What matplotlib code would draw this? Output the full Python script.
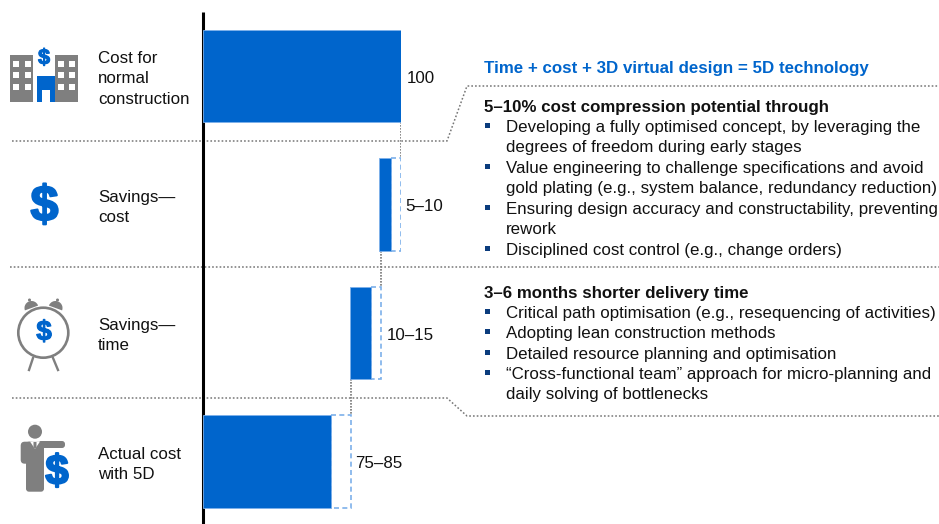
import matplotlib
matplotlib.use('Agg')
import matplotlib.pyplot as plt
import matplotlib.patheffects as pe
from matplotlib.patches import Rectangle, Circle, Wedge, FancyBboxPatch, Polygon

plt.rcParams['font.family'] = ['Liberation Sans', 'DejaVu Sans']

BLUE = '#0065CC'
LIGHT = '#7DB0EA'
GREY = '#7F7F7F'
DOT = '#777777'
INK = '#111111'

categories = ['Cost for\nnormal\nconstruction', 'Savings—\ncost', 'Savings—\ntime', 'Actual cost\nwith 5D']
bar_start = [0, 89.3, 74.4, 0]
bar_end = [100, 95, 85, 65]
range_end = [100, 100, 90, 75]
value_labels = ['100', '5–10', '10–15', '75–85']

headline = 'Time + cost + 3D virtual design = 5D technology'
cost_title = '5–10% cost compression potential through'
cost_bullets = [
    'Developing a fully optimised concept, by leveraging the\ndegrees of freedom during early stages',
    'Value engineering to challenge specifications and avoid\ngold plating (e.g., system balance, redundancy reduction)',
    'Ensuring design accuracy and constructability, preventing\nrework',
    'Disciplined cost control (e.g., change orders)',
]
time_title = '3–6 months shorter delivery time'
time_bullets = [
    'Critical path optimisation (e.g., resequencing of activities)',
    'Adopting lean construction methods',
    'Detailed resource planning and optimisation',
    '“Cross-functional team” approach for micro-planning and\ndaily solving of bottlenecks',
]

fig = plt.figure(figsize=(9.39, 5.24), dpi=100)

# overlay in pixel coordinates for text blocks, rules and icons
bg = fig.add_axes([0, 0, 1, 1])
bg.set_xlim(0, 939)
bg.set_ylim(524, 0)
bg.axis('off')

# bar axes: 0 at x=203, 100 at x=400.5, rows 128.5 px apart
ax = fig.add_axes([203 / 939, 0, 197.5 / 939, 1])
ax.set_xlim(0, 100)
ax.set_ylim((524 - 76) / 128.5, -76 / 128.5)
ax.axis('off')
ax.patch.set_alpha(0)

dotted = dict(color=DOT, lw=1.1, dashes=(1.1, 1.35))
bg.plot([12, 447, 467, 939], [141, 141, 86, 86], **dotted)
bg.plot([10, 939], [267, 267], **dotted)
bg.plot([12, 447, 467, 939], [398, 398, 416, 416], **dotted)

label_gap = [3, 2.6, 3, 2]
for i in range(4):
    ax.barh(i, bar_end[i] - bar_start[i], left=bar_start[i], height=0.72, color=BLUE,
            edgecolor=LIGHT, lw=0.6, zorder=3)
    if range_end[i] > bar_end[i]:
        ax.barh(i, range_end[i] - bar_end[i], left=bar_end[i], height=0.72, fill=False,
                edgecolor=LIGHT, lw=1.2, linestyle=(0, (3, 2)), zorder=2)
    ax.text(range_end[i] + label_gap[i], i + 0.016, value_labels[i], fontsize=12.2,
            va='center', ha='left', color=INK)
    if i < 3:
        # connector runs down to the top right corner of the next row
        xc = range_end[i + 1]
        ax.plot([xc, xc], [i + 0.36, i + 0.64], color=DOT, lw=1.2, dashes=(1, 0.8), zorder=1)

bg.plot([202.5, 202.5], [11.5, 524], color='black', lw=2.2, solid_capstyle='butt', zorder=5)


def text_lines(x, baseline, s, size=12.2, step=20.4, **kw):
    # each line placed by hand, matplotlib's linespacing is too loose to tune
    for n, line in enumerate(s.split('\n')):
        bg.text(x, baseline + n * step, line, fontsize=size, va='baseline', ha='left', **kw)


for y, label in zip([63, 202, 330, 459], categories):
    text_lines(98, y, label, color=INK)

# right hand text
text_lines(484, 73, headline, fontweight='bold', color=BLUE)
text_lines(484, 112, cost_title, fontweight='bold', color=INK)
text_lines(484, 298, time_title, fontweight='bold', color=INK)


def bullets(items, baselines):
    for item, y in zip(items, baselines):
        bg.add_patch(Rectangle((485, y - 9.5), 5, 5, color='#0B3C7D', lw=0))
        text_lines(506, y, item, color=INK)


bullets(cost_bullets, [132, 173, 214, 255])
bullets(time_bullets, [318, 338, 359, 379])


def dollar(x, y, size, heavy=0.8):
    t = bg.text(x, y + 0.1 * size, '$', fontsize=size, fontweight='bold', color=BLUE,
                ha='center', va='center', zorder=6)
    t.set_path_effects([pe.withStroke(linewidth=heavy, foreground=BLUE)])


# building icon
for x0, wins in [(10, (13.3, 25)), (55, (57.7, 69))]:
    bg.add_patch(Rectangle((x0, 55), 23, 46.5, color=GREY, lw=0))
    for wy in (60.7, 72.3, 84):
        for wx in wins:
            bg.add_patch(Rectangle((wx, wy), 6, 6, color='white', lw=0))
bg.add_patch(Rectangle((36.7, 76), 18.3, 25.5, color=BLUE, lw=0))
bg.add_patch(Rectangle((42.3, 90), 7.7, 11.5, color='white', lw=0))
dollar(44, 57, 15.5)

# plain dollar
dollar(44.5, 204, 36, heavy=1.5)

# alarm clock
bg.add_patch(Circle((43.3, 332.7), 25, fill=False, ec=GREY, lw=1.9))
for cx, cy, t1, t2 in [(31.5, 308, 160, 340), (55.5, 308, 200, 380)]:
    bg.add_patch(Wedge((cx, cy), 7, t1, t2, color=GREY, lw=0))
bg.add_patch(Circle((29.5, 300), 1.5, color=GREY, lw=0))
bg.add_patch(Circle((57.5, 300), 1.5, color=GREY, lw=0))
bg.plot([33, 29], [358, 370], color=GREY, lw=1.7)
bg.plot([53, 58], [358, 370], color=GREY, lw=1.7)
dollar(44, 331, 20)

# man with dollar
bg.add_patch(Circle((35, 431.7), 7, color=GREY, lw=0))
bg.add_patch(FancyBboxPatch((20.7, 441.7), 14, 22, boxstyle='round,pad=0,rounding_size=4', color=GREY, lw=0))
bg.add_patch(FancyBboxPatch((26, 441.7), 18, 50, boxstyle='round,pad=0,rounding_size=3', color=GREY, lw=0))
bg.add_patch(FancyBboxPatch((38, 441), 27, 7, boxstyle='round,pad=0,rounding_size=3', color=GREY, lw=0))
bg.add_patch(Polygon([(30, 441.5), (40, 441.5), (35, 449)], color='white', lw=0, zorder=3))
bg.add_patch(Polygon([(33.5, 442), (36.5, 442), (36.5, 447), (35, 449), (33.5, 447)], color=GREY, lw=0, zorder=4))
dollar(57, 470, 30, heavy=1.5)

fig.savefig('out.png', dpi=100)
